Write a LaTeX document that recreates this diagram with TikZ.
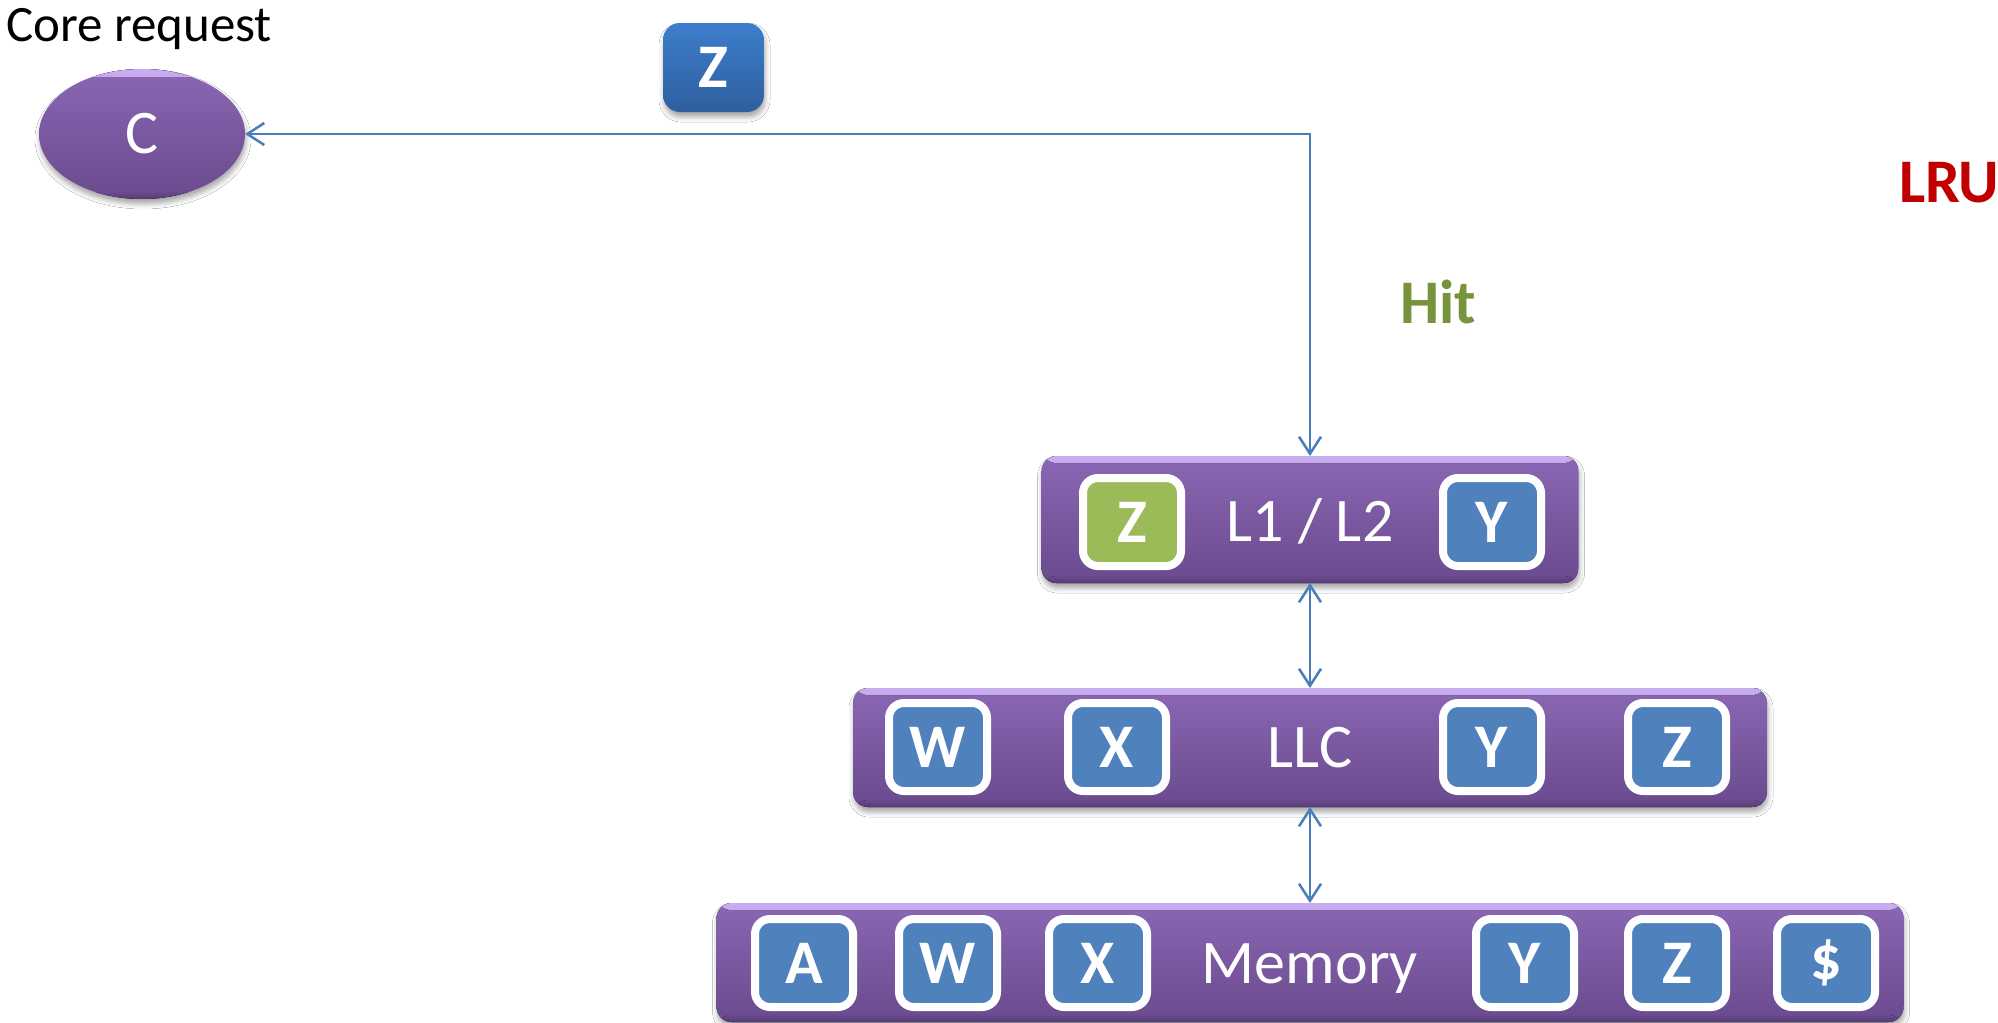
\documentclass[tikz,border=0pt]{standalone}
\usepackage{fontspec}
\setmainfont{Carlito}
\usetikzlibrary{arrows.meta,shapes.geometric,shadows.blur}

\definecolor{barTop}{HTML}{8A67B4}
\definecolor{barBot}{HTML}{6A4A8D}
\definecolor{barHi}{HTML}{C8ADF0}
\definecolor{barEdge}{HTML}{553A76}
\definecolor{tileBlue}{HTML}{4F81BD}
\definecolor{tileGreen}{HTML}{9BBB59}
\definecolor{zTop}{HTML}{3D7ECB}
\definecolor{zBot}{HTML}{2E5F9F}
\definecolor{linkBlue}{HTML}{4A7EBB}
\definecolor{hitGreen}{HTML}{77933C}
\definecolor{lruRed}{HTML}{C00000}

\begin{document}
\begin{tikzpicture}[x=1pt, y=-1pt,
  every node/.style={inner sep=0pt, outer sep=0pt},
  big/.style={font=\fontsize{62pt}{70pt}\selectfont},
  bigbold/.style={font=\fontsize{62pt}{70pt}\selectfont\bfseries},
  softshadow/.style={blur shadow={shadow xshift=1pt, shadow yshift=-5pt,
      shadow blur radius=5pt, shadow opacity=35}},
  bevel/.style={path picture={
      \fill[top color=barHi, bottom color=barTop]
        (path picture bounding box.north west) rectangle
        ([yshift=-7pt]path picture bounding box.north east);
      \fill[top color=barBot, bottom color=barEdge]
        ([yshift=7pt]path picture bounding box.south west) rectangle
        (path picture bounding box.south east);}},
  bar/.style={rectangle, rounded corners=15pt, top color=barTop,
      bottom color=barBot, softshadow, bevel},
  tile/.style={rectangle, draw=white, line width=8pt, fill=tileBlue,
      rounded corners=15pt, minimum width=98pt, minimum height=88pt,
      text=white, bigbold},
  barlabel/.style={big, text=white, anchor=base},
  conn/.style={draw=linkBlue, line width=2.5pt,
      {Straight Barb[length=17pt,width=22pt]}-{Straight Barb[length=17pt,width=22pt]}}
]
\useasboundingbox (0,0) rectangle (1998,1023);
\fill[white] (0,0) rectangle (1998,1023);

% requesting core
\node[anchor=base west, font=\fontsize{51pt}{58pt}\selectfont] (req) at (6,41) {Core request};
\node[ellipse, minimum width=206pt, minimum height=130pt, top color=barTop,
      bottom color=barBot, softshadow, bevel, big, text=white] (core) at (142,134) {C};

% block travelling back to the core
\node[rectangle, rounded corners=17pt, minimum width=101pt, minimum height=89pt,
      top color=zTop, bottom color=zBot, softshadow, bigbold, text=white] (ztop) at (713.5,67.5) {Z};

% annotations
\node[bigbold, text=hitGreen] (hit) at (1438,302) {Hit};
\node[bigbold, text=lruRed, anchor=west] (lru) at (1899,183) {LRU};

% cache hierarchy
\node[bar, minimum width=537pt, minimum height=127pt] (l12) at (1310,519.5) {};
\node[bar, minimum width=914pt, minimum height=119pt] (llc) at (1310,747.5) {};
\node[bar, minimum width=1187pt, minimum height=119pt] (mem) at (1310,962.5) {};

\node[tile, fill=tileGreen] (l12z) at (1132,522) {Z};
\node[tile] (l12y) at (1492,522) {Y};
\node[barlabel] (l12lbl) at (1310,541) {L1 / L2};

\node[tile] (llcw) at (938,747) {W};
\node[tile] (llcx) at (1117,747) {X};
\node[tile] (llcy) at (1492,747) {Y};
\node[tile] (llcz) at (1677,747) {Z};
\node[barlabel] (llclbl) at (1310,767) {LLC};

\node[tile] (mema) at (804,963) {A};
\node[tile] (memw) at (948,963) {W};
\node[tile] (memx) at (1098,963) {X};
\node[tile] (memy) at (1525,963) {Y};
\node[tile] (memz) at (1677,963) {Z};
\node[tile] (memd) at (1826,963) {\$};
\node[barlabel] (memlbl) at (1310,983) {Memory};

% links between levels
\draw[conn] (core.east) -| (l12.north);
\draw[conn] (l12.south) -- (llc.north);
\draw[conn] (llc.south) -- (mem.north);
\end{tikzpicture}
\end{document}
